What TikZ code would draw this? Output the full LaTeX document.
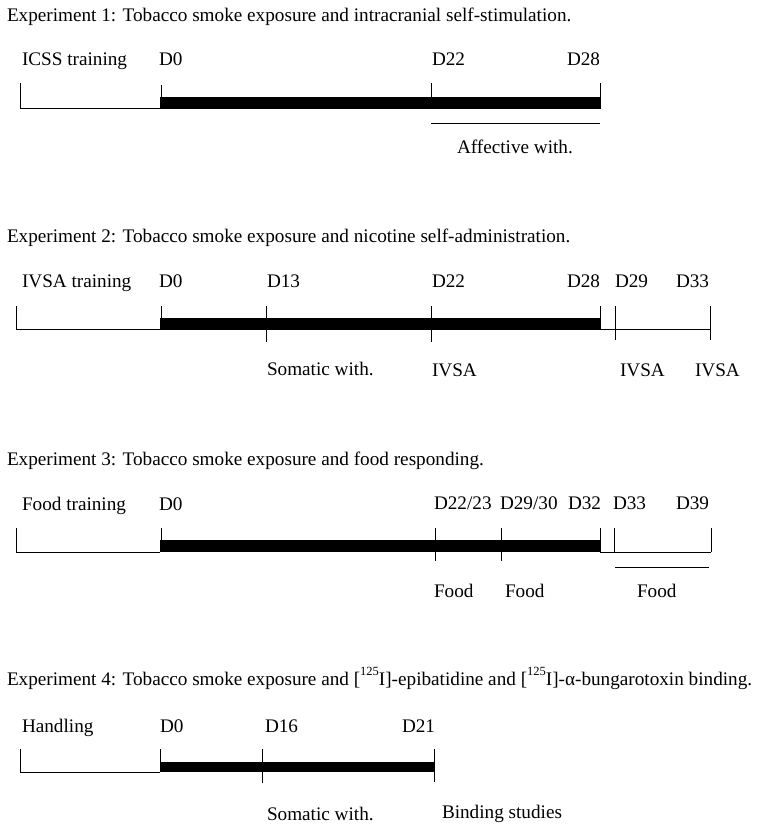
\documentclass[tikz,border=0pt]{standalone}
\usepackage{fontspec}
\setmainfont{Liberation Serif}
\newcommand{\isosup}[1]{\raisebox{0.5em}{\fontsize{12.5}{14}\selectfont #1}}
\begin{document}
\begin{tikzpicture}[x=1pt,y=-1pt,
  lbl/.style={anchor=base west,inner sep=0pt,outer sep=0pt,font=\fontsize{19.2}{23}\selectfont},
  thin line/.style={line width=0.9pt,line cap=butt},
  barfill/.style={fill=black}]
\useasboundingbox (0,0) rectangle (762,831);

% ---------------- Experiment 1 ----------------
\node[lbl] (t1) at (7,21) {Experiment 1: Tobacco smoke exposure and intracranial self-stimulation.};
\node[lbl] (e1a) at (22,65) {ICSS training};
\node[lbl] (e1b) at (159,65) {D0};
\node[lbl] (e1c) at (432,65) {D22};
\node[lbl] (e1d) at (567,65) {D28};
\node[lbl] (e1e) at (457,153) {Affective with.};
\coordinate (p1a) at (20,83); \coordinate (p1b) at (20,108); \coordinate (p1c) at (160,108);
\coordinate (b1s) at (160,97); \coordinate (b1e) at (600,109);
\coordinate (k1a) at (161,85); \coordinate (k1b) at (161,97);
\coordinate (k1c) at (431,83); \coordinate (k1d) at (431,97);
\coordinate (k1e) at (600,83); \coordinate (k1f) at (600,109);
\coordinate (u1a) at (431,123); \coordinate (u1b) at (600,123);
\draw[thin line] (p1a) -- (p1b) -- (p1c);
\fill[barfill] (b1s) rectangle (b1e);
\draw[thin line] (k1a) -- (k1b);
\draw[thin line] (k1c) -- (k1d);
\draw[thin line] (k1e) -- (k1f);
\draw[thin line] (u1a) -- (u1b);

% ---------------- Experiment 2 ----------------
\node[lbl] (t2) at (7,242) {Experiment 2: Tobacco smoke exposure and nicotine self-administration.};
\node[lbl] (e2a) at (22,287) {IVSA training};
\node[lbl] (e2b) at (159,287) {D0};
\node[lbl] (e2c) at (267,287) {D13};
\node[lbl] (e2d) at (432,287) {D22};
\node[lbl] (e2e) at (567,287) {D28};
\node[lbl] (e2f) at (615,287) {D29};
\node[lbl] (e2g) at (676,287) {D33};
\node[lbl] (e2h) at (267,375) {Somatic with.};
\node[lbl] (e2i) at (432,376) {IVSA};
\node[lbl] (e2j) at (620,376) {IVSA};
\node[lbl] (e2k) at (695,376) {IVSA};
\coordinate (p2a) at (16,306); \coordinate (p2b) at (16,329); \coordinate (p2c) at (160,329);
\coordinate (b2s) at (160,318); \coordinate (b2e) at (600,330);
\coordinate (k2a) at (161,306); \coordinate (k2b) at (161,318);
\coordinate (k2c) at (266,306); \coordinate (k2d) at (266,342);
\coordinate (k2e) at (431,306); \coordinate (k2f) at (431,342);
\coordinate (k2g) at (600,306); \coordinate (k2h) at (600,330);
\coordinate (k2i) at (615,306); \coordinate (k2j) at (615,340);
\coordinate (k2k) at (710,306); \coordinate (k2l) at (710,340);
\coordinate (l2a) at (600,329); \coordinate (l2b) at (710,329);
\draw[thin line] (p2a) -- (p2b) -- (p2c);
\fill[barfill] (b2s) rectangle (b2e);
\draw[thin line] (k2a) -- (k2b);
\draw[thin line] (k2c) -- (k2d);
\draw[thin line] (k2e) -- (k2f);
\draw[thin line] (k2g) -- (k2h);
\draw[thin line] (k2i) -- (k2j);
\draw[thin line] (k2k) -- (k2l);
\draw[thin line] (l2a) -- (l2b);

% ---------------- Experiment 3 ----------------
\node[lbl] (t3) at (7,465) {Experiment 3: Tobacco smoke exposure and food responding.};
\node[lbl] (e3a) at (22,510) {Food training};
\node[lbl] (e3b) at (159,510) {D0};
\node[lbl] (e3c) at (434,509) {D22/23};
\node[lbl] (e3d) at (500,509) {D29/30};
\node[lbl] (e3e) at (568,509) {D32};
\node[lbl] (e3f) at (613,509) {D33};
\node[lbl] (e3g) at (676,509) {D39};
\node[lbl] (e3h) at (434,597) {Food};
\node[lbl] (e3i) at (505,597) {Food};
\node[lbl] (e3j) at (637,597) {Food};
\coordinate (p3a) at (16,528); \coordinate (p3b) at (16,552); \coordinate (p3c) at (160,552);
\coordinate (b3s) at (160,540); \coordinate (b3e) at (600,552);
\coordinate (k3a) at (161,528); \coordinate (k3b) at (161,540);
\coordinate (k3c) at (435,528); \coordinate (k3d) at (435,561);
\coordinate (k3e) at (501,528); \coordinate (k3f) at (501,561);
\coordinate (k3g) at (600,528); \coordinate (k3h) at (600,552);
\coordinate (k3i) at (614,528); \coordinate (k3j) at (614,552);
\coordinate (k3k) at (711,528); \coordinate (k3l) at (711,552);
\coordinate (l3a) at (600,552); \coordinate (l3b) at (711,552);
\coordinate (u3a) at (615,567); \coordinate (u3b) at (709,567);
\draw[thin line] (p3a) -- (p3b) -- (p3c);
\fill[barfill] (b3s) rectangle (b3e);
\draw[thin line] (k3a) -- (k3b);
\draw[thin line] (k3c) -- (k3d);
\draw[thin line] (k3e) -- (k3f);
\draw[thin line] (k3g) -- (k3h);
\draw[thin line] (k3i) -- (k3j);
\draw[thin line] (k3k) -- (k3l);
\draw[thin line] (l3a) -- (l3b);
\draw[thin line] (u3a) -- (u3b);

% ---------------- Experiment 4 ----------------
\node[lbl] (t4) at (7,685) {Experiment 4: Tobacco smoke exposure and [\isosup{125}I]-epibatidine and [\isosup{125}I]-α-bungarotoxin binding.};
\node[lbl] (e4a) at (22,732) {Handling};
\node[lbl] (e4b) at (160,732) {D0};
\node[lbl] (e4c) at (265,732) {D16};
\node[lbl] (e4d) at (402,732) {D21};
\node[lbl] (e4e) at (267,820) {Somatic with.};
\node[lbl] (e4f) at (442,818) {Binding studies};
\coordinate (p4a) at (20,749); \coordinate (p4b) at (20,772); \coordinate (p4c) at (160,772);
\coordinate (b4s) at (160,762); \coordinate (b4e) at (434,772);
\coordinate (k4a) at (160,749); \coordinate (k4b) at (160,762);
\coordinate (k4c) at (262,749); \coordinate (k4d) at (262,783);
\coordinate (k4e) at (434,749); \coordinate (k4f) at (434,782);
\draw[thin line] (p4a) -- (p4b) -- (p4c);
\fill[barfill] (b4s) rectangle (b4e);
\draw[thin line] (k4a) -- (k4b);
\draw[thin line] (k4c) -- (k4d);
\draw[thin line] (k4e) -- (k4f);
\end{tikzpicture}
\end{document}
